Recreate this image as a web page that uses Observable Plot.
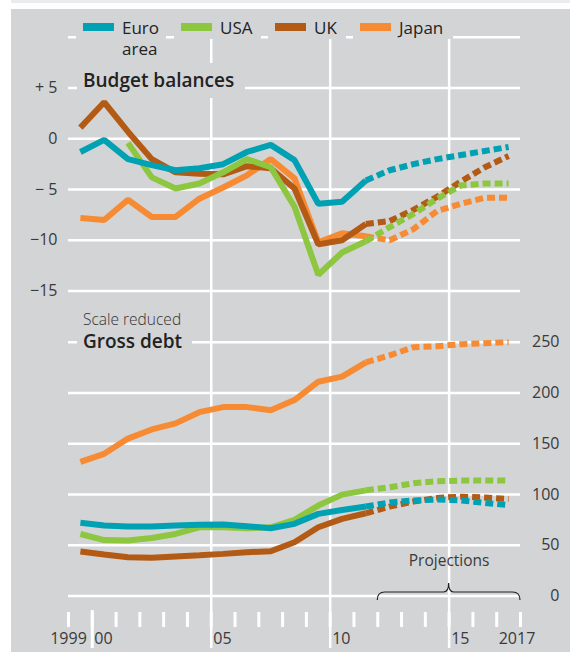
<!DOCTYPE html>
<html><head><meta charset="utf-8">
<script src="https://cdn.jsdelivr.net/npm/d3@7"></script>
<script src="https://cdn.jsdelivr.net/npm/@observablehq/plot@0.6"></script>
<style>
body{margin:0;background:#fff;font-family:"Open Sans",sans-serif;color:#222;}
#wrap{position:relative;width:570px;height:652px;overflow:hidden;}
.abs{position:absolute;}
.box{position:absolute;background:#d3d4d6;}
.lg-sw{position:absolute;height:8px;width:31px;top:23px;}
.lg-tx{position:absolute;font-size:17px;line-height:21px;top:17px;white-space:nowrap;}
</style></head><body>
<div id="wrap">
  <div class="abs" style="left:11px;top:0;width:559px;height:3px;background:#ebebed"></div>
  <div class="abs" style="left:11px;top:9px;width:559px;height:643px;background:#d3d4d6"></div>
  <div id="top" class="abs" style="left:0;top:0"></div>
  <div id="bottom" class="abs" style="left:0;top:316px"></div>
  <div id="legend"></div>
  <div class="box" style="left:77px;top:63px;width:168px;height:35px;"><span style="position:absolute;left:6px;top:0;line-height:35px;font-size:19px;font-weight:600;white-space:nowrap">Budget balances</span></div>
  <div class="abs" style="left:83px;top:311px;line-height:17px;font-size:15.5px;font-weight:300;white-space:nowrap;color:#333">Scale reduced</div>
  <div class="box" style="left:77px;top:331px;width:115px;height:21px;"><span style="position:absolute;left:6px;top:0;line-height:21px;font-size:19px;font-weight:600;white-space:nowrap">Gross debt</span></div>
</div>
<script>
// ---------- data ----------
const years = d3.range(1999, 2018);
const lastActual = 2011;
const countries = ["Japan", "UK", "USA", "Euro area"]; // drawing order (bottom to top)
const legendOrder = ["Euro area", "USA", "UK", "Japan"];
const legendLabels = ["Euro<br>area", "USA", "UK", "Japan"];
const colors = ["#f68b33", "#b35a14", "#8dc63f", "#00a1b2"];

const euroBal  = [-1.3,-0.1,-2.0,-2.6,-3.1,-2.9,-2.5,-1.3,-0.6,-2.1,-6.4,-6.2,-4.1,-3.1,-2.5,-2.0,-1.6,-1.2,-0.8];
const usaBal   = [null,null,-0.4,-3.8,-4.9,-4.4,-3.3,-2.0,-2.8,-6.7,-13.4,-11.2,-10.1,-8.7,-7.4,-5.9,-4.6,-4.4,-4.4];
const ukBal    = [1.1,3.6,0.7,-2.0,-3.3,-3.45,-3.5,-2.7,-2.9,-4.9,-10.4,-10.0,-8.4,-8.1,-7.0,-5.7,-4.2,-2.8,-1.7];
const japanBal = [-7.8,-8.0,-6.0,-7.7,-7.7,-5.9,-4.8,-3.6,-2.0,-3.9,-10.2,-9.3,-9.6,-10.0,-8.9,-7.1,-6.4,-5.8,-5.8];

const euroDebt  = [72,69.3,68.3,68.3,69.3,70,70.3,68.6,66.7,71,80.8,84.7,88,92,94,95,94,91.6,89.6];
const usaDebt   = [61,55,54.5,57,61,67.6,67.6,66.6,67.6,75,89,99.8,104,107,111,113,113.6,113.6,113.6];
const ukDebt    = [43.7,40.7,38,37.5,38.8,40,41.4,43,44,52.9,67.6,75.9,81.4,88,93,96.5,97.8,97,95.5];
const japanDebt = [132,140,155,164,170,181,186,186,183,193,211,216,230,237,245,246,248,249,250];

const balTicks = [10, 5, 0, -5, -10, -15];
const balLabels = ["", "+ 5", "0", "\u2212 5", "\u221210", "\u221215"];
const debtTicks = [0, 50, 100, 150, 200, 250];
const gridYears = [2005, 2010, 2015];
const allTickYears = d3.range(1999, 2019);
const longTickYears = [2000];
const yearLabelYears = [2000, 2005, 2010, 2015, 2017];
const yearLabels = ["00", "05", "10", "15", "2017"];
const firstYearLabel = ["1999"];
const projection = {start: 2012, end: 2018, label: "Projections"};

// ---------- build tidy tables ----------
function tidy(series) {
  const out = [];
  for (const c of countries) {
    series[c].forEach((v, i) => { if (v != null) out.push({country: c, year: years[i], value: v}); });
  }
  return out;
}
const bal = tidy({"Euro area": euroBal, "USA": usaBal, "UK": ukBal, "Japan": japanBal});
const debt = tidy({"Euro area": euroDebt, "USA": usaDebt, "UK": ukDebt, "Japan": japanDebt});

const font = '"Open Sans", sans-serif';
const grid = {stroke: "white", strokeOpacity: 1, strokeWidth: 2.5};
const tickText = {fill: "#3a3a3a", fontWeight: 400, fontSize: 16};
const lineOpts = {x: d => d.year + 0.5, y: "value", z: "country", stroke: "country", strokeWidth: 6, strokeLinejoin: "miter", strokeLinecap: "butt"};

// ---------- top: budget balances ----------
const topPlot = Plot.plot({
  width: 570, height: 316,
  marginLeft: 68, marginRight: 50, marginTop: 36.8, marginBottom: 25.45,
  x: {domain: [1999, 2018], axis: null},
  y: {domain: [-15, 10], axis: null},
  color: {domain: countries, range: colors},
  style: {background: "transparent", fontFamily: font, fontSize: "16px", overflow: "visible"},
  marks: [
    Plot.ruleY(balTicks, {y: d => d, ...grid}),
    Plot.ruleX(gridYears, {x: d => d, ...grid, insetBottom: -25.45}),
    Plot.text(balTicks, {y: d => d, text: (d, i) => balLabels[i], frameAnchor: "left", textAnchor: "end", dx: -11, ...tickText}),
    Plot.line(bal.filter(d => d.year <= lastActual), lineOpts),
    Plot.line(bal.filter(d => d.year >= lastActual), {...lineOpts, strokeDasharray: "8,4"})
  ]
});
document.getElementById("top").appendChild(topPlot);

// ---------- bottom: gross debt ----------
const botPlot = Plot.plot({
  width: 570, height: 336,
  marginLeft: 68, marginRight: 50, marginTop: 25.65, marginBottom: 56.6,
  x: {domain: [1999, 2018], axis: null},
  y: {domain: [0, 250], axis: null},
  color: {domain: countries, range: colors},
  style: {background: "transparent", fontFamily: font, fontSize: "16px", overflow: "visible"},
  marks: [
    Plot.ruleY(debtTicks, {y: d => d, ...grid}),
    Plot.ruleX(gridYears, {x: d => d, ...grid, insetTop: -25.65, insetBottom: -52.6}),
    Plot.ruleX(allTickYears, {x: d => d, stroke: "white", strokeWidth: 3, insetTop: 270.35, insetBottom: -31.6}),
    Plot.ruleX(longTickYears, {x: d => d, stroke: "white", strokeWidth: 3, insetTop: 268.35, insetBottom: -52.6}),
    Plot.text(debtTicks, {y: d => d, text: d => String(d), frameAnchor: "right", textAnchor: "end", dx: 39, ...tickText}),
    Plot.text(yearLabelYears, {x: d => d, text: (d, i) => yearLabels[i], frameAnchor: "bottom", textAnchor: "start", dx: 2, dy: 47.6, ...tickText}),
    Plot.text(firstYearLabel, {x: d => +d, text: d => d, frameAnchor: "bottom", textAnchor: "middle", dy: 47.6, ...tickText}),
    Plot.text([projection], {x: d => (d.start + d.end) / 2, text: "label", frameAnchor: "bottom", dy: -30.4, ...tickText, fontSize: 15.5}),
    Plot.line(debt.filter(d => d.year <= lastActual), lineOpts),
    Plot.line(debt.filter(d => d.year >= lastActual), {...lineOpts, strokeDasharray: "8,4"})
  ]
});
document.getElementById("bottom").appendChild(botPlot);

// brace under "Projections", positioned with the plot's own x scale
{
  const xs = botPlot.scale("x");
  const x0 = xs.apply(projection.start), x1 = xs.apply(projection.end), xm = (x0 + x1) / 2;
  const yb = 276, ye = 284, yt = 267, r = 5;
  const p = `M${x0},${ye} Q${x0},${yb} ${x0 + r * 1.5},${yb} L${xm - r},${yb} Q${xm},${yb} ${xm},${yt} Q${xm},${yb} ${xm + r},${yb} L${x1 - r * 1.5},${yb} Q${x1},${yb} ${x1},${ye}`;
  d3.select(botPlot).append("path").attr("d", p).attr("fill", "none").attr("stroke", "#222").attr("stroke-width", 1.2);
}

// ---------- legend ----------
const lgPos = [{l: 76, w: 90}, {l: 174, w: 87}, {l: 268, w: 78}, {l: 353, w: 100}];
const lg = document.getElementById("legend");
legendOrder.forEach((c, i) => {
  const box = document.createElement("div");
  box.className = "box";
  box.style.cssText = `left:${lgPos[i].l}px;top:14px;width:${lgPos[i].w}px;height:24.5px;`;
  const sw = document.createElement("div");
  sw.className = "lg-sw";
  sw.style.left = (lgPos[i].l + 7) + "px";
  sw.style.background = colors[countries.indexOf(c)];
  const tx = document.createElement("div");
  tx.className = "lg-tx";
  tx.style.left = (lgPos[i].l + 46) + "px";
  tx.innerHTML = legendLabels[i];
  lg.appendChild(box); lg.appendChild(sw); lg.appendChild(tx);
});
</script>
</body></html>
